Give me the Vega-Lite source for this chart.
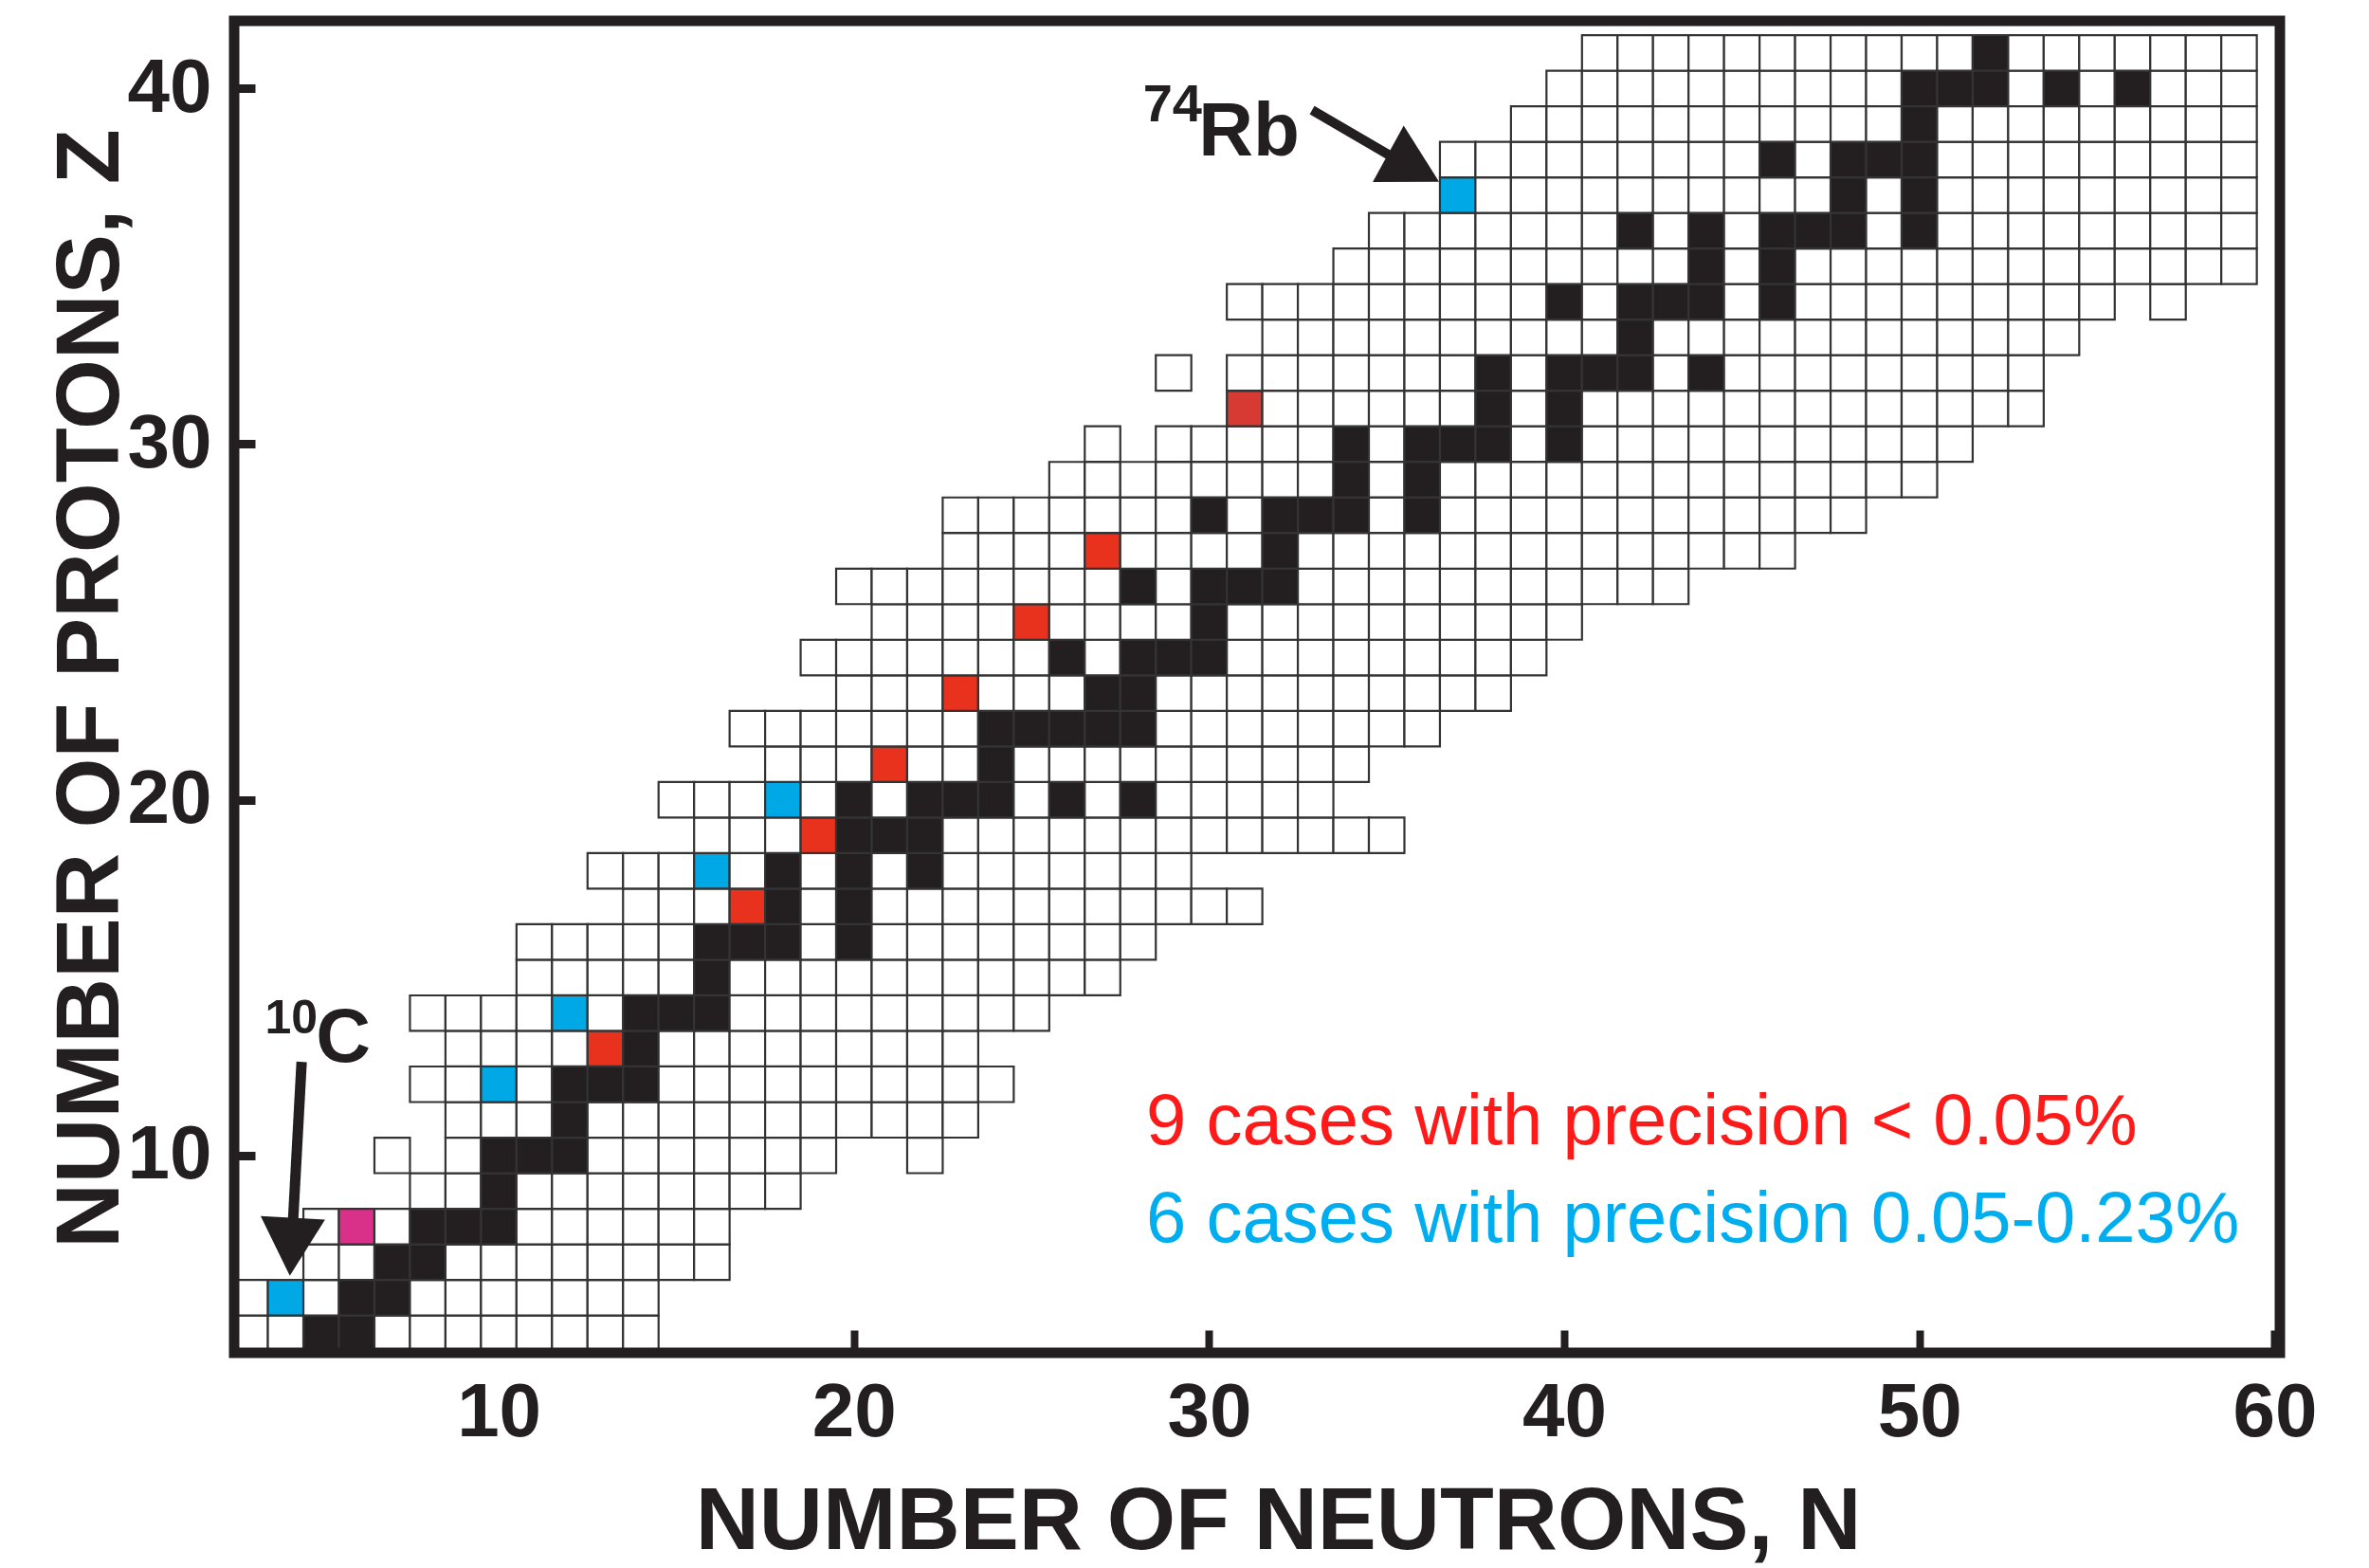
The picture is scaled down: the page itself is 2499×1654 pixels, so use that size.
{
"$schema":"https://vega.github.io/schema/vega-lite/v6.json",
"width":2158,"height":1405,
"autosize":{"type":"none"},
"padding":{"left":247,"top":22,"right":94,"bottom":227},
"background":"white",
"config":{"view":{"stroke":null},"font":"Liberation Sans"},
"datasets":{"cells":[
{"Z":5,"N":3,"k":"o"},{"Z":5,"N":4,"k":"o"},{"Z":5,"N":5,"k":"s"},{"Z":5,"N":6,"k":"s"},{"Z":5,"N":7,"k":"o"},{"Z":5,"N":8,"k":"o"},{"Z":5,"N":9,"k":"o"},{"Z":5,"N":10,"k":"o"},{"Z":5,"N":11,"k":"o"},{"Z":5,"N":12,"k":"o"},{"Z":5,"N":13,"k":"o"},{"Z":5,"N":14,"k":"o"},
{"Z":6,"N":3,"k":"o"},{"Z":6,"N":4,"k":"b"},{"Z":6,"N":5,"k":"o"},{"Z":6,"N":6,"k":"s"},{"Z":6,"N":7,"k":"s"},{"Z":6,"N":8,"k":"o"},{"Z":6,"N":9,"k":"o"},{"Z":6,"N":10,"k":"o"},{"Z":6,"N":11,"k":"o"},{"Z":6,"N":12,"k":"o"},{"Z":6,"N":13,"k":"o"},{"Z":6,"N":14,"k":"o"},
{"Z":7,"N":5,"k":"o"},{"Z":7,"N":6,"k":"o"},{"Z":7,"N":7,"k":"s"},{"Z":7,"N":8,"k":"s"},{"Z":7,"N":9,"k":"o"},{"Z":7,"N":10,"k":"o"},{"Z":7,"N":11,"k":"o"},{"Z":7,"N":12,"k":"o"},{"Z":7,"N":13,"k":"o"},{"Z":7,"N":14,"k":"o"},{"Z":7,"N":15,"k":"o"},{"Z":7,"N":16,"k":"o"},
{"Z":8,"N":5,"k":"o"},{"Z":8,"N":6,"k":"m"},{"Z":8,"N":7,"k":"o"},{"Z":8,"N":8,"k":"s"},{"Z":8,"N":9,"k":"s"},{"Z":8,"N":10,"k":"s"},{"Z":8,"N":11,"k":"o"},{"Z":8,"N":12,"k":"o"},{"Z":8,"N":13,"k":"o"},{"Z":8,"N":14,"k":"o"},{"Z":8,"N":15,"k":"o"},{"Z":8,"N":16,"k":"o"},
{"Z":9,"N":8,"k":"o"},{"Z":9,"N":9,"k":"o"},{"Z":9,"N":10,"k":"s"},{"Z":9,"N":11,"k":"o"},{"Z":9,"N":12,"k":"o"},{"Z":9,"N":13,"k":"o"},{"Z":9,"N":14,"k":"o"},{"Z":9,"N":15,"k":"o"},{"Z":9,"N":16,"k":"o"},{"Z":9,"N":17,"k":"o"},{"Z":9,"N":18,"k":"o"},
{"Z":10,"N":7,"k":"o"},{"Z":10,"N":9,"k":"o"},{"Z":10,"N":10,"k":"s"},{"Z":10,"N":11,"k":"s"},{"Z":10,"N":12,"k":"s"},{"Z":10,"N":13,"k":"o"},{"Z":10,"N":14,"k":"o"},{"Z":10,"N":15,"k":"o"},{"Z":10,"N":16,"k":"o"},{"Z":10,"N":17,"k":"o"},{"Z":10,"N":18,"k":"o"},{"Z":10,"N":19,"k":"o"},{"Z":10,"N":22,"k":"o"},
{"Z":11,"N":9,"k":"o"},{"Z":11,"N":10,"k":"o"},{"Z":11,"N":11,"k":"o"},{"Z":11,"N":12,"k":"s"},{"Z":11,"N":13,"k":"o"},{"Z":11,"N":14,"k":"o"},{"Z":11,"N":15,"k":"o"},{"Z":11,"N":16,"k":"o"},{"Z":11,"N":17,"k":"o"},{"Z":11,"N":18,"k":"o"},{"Z":11,"N":19,"k":"o"},{"Z":11,"N":20,"k":"o"},{"Z":11,"N":21,"k":"o"},{"Z":11,"N":22,"k":"o"},{"Z":11,"N":23,"k":"o"},
{"Z":12,"N":8,"k":"o"},{"Z":12,"N":9,"k":"o"},{"Z":12,"N":10,"k":"b"},{"Z":12,"N":11,"k":"o"},{"Z":12,"N":12,"k":"s"},{"Z":12,"N":13,"k":"s"},{"Z":12,"N":14,"k":"s"},{"Z":12,"N":15,"k":"o"},{"Z":12,"N":16,"k":"o"},{"Z":12,"N":17,"k":"o"},{"Z":12,"N":18,"k":"o"},{"Z":12,"N":19,"k":"o"},{"Z":12,"N":20,"k":"o"},{"Z":12,"N":21,"k":"o"},{"Z":12,"N":22,"k":"o"},{"Z":12,"N":23,"k":"o"},{"Z":12,"N":24,"k":"o"},
{"Z":13,"N":9,"k":"o"},{"Z":13,"N":10,"k":"o"},{"Z":13,"N":11,"k":"o"},{"Z":13,"N":12,"k":"o"},{"Z":13,"N":13,"k":"r"},{"Z":13,"N":14,"k":"s"},{"Z":13,"N":15,"k":"o"},{"Z":13,"N":16,"k":"o"},{"Z":13,"N":17,"k":"o"},{"Z":13,"N":18,"k":"o"},{"Z":13,"N":19,"k":"o"},{"Z":13,"N":20,"k":"o"},{"Z":13,"N":21,"k":"o"},{"Z":13,"N":22,"k":"o"},{"Z":13,"N":23,"k":"o"},
{"Z":14,"N":8,"k":"o"},{"Z":14,"N":9,"k":"o"},{"Z":14,"N":10,"k":"o"},{"Z":14,"N":11,"k":"o"},{"Z":14,"N":12,"k":"b"},{"Z":14,"N":13,"k":"o"},{"Z":14,"N":14,"k":"s"},{"Z":14,"N":15,"k":"s"},{"Z":14,"N":16,"k":"s"},{"Z":14,"N":17,"k":"o"},{"Z":14,"N":18,"k":"o"},{"Z":14,"N":19,"k":"o"},{"Z":14,"N":20,"k":"o"},{"Z":14,"N":21,"k":"o"},{"Z":14,"N":22,"k":"o"},{"Z":14,"N":23,"k":"o"},{"Z":14,"N":24,"k":"o"},{"Z":14,"N":25,"k":"o"},
{"Z":15,"N":11,"k":"o"},{"Z":15,"N":12,"k":"o"},{"Z":15,"N":13,"k":"o"},{"Z":15,"N":14,"k":"o"},{"Z":15,"N":15,"k":"o"},{"Z":15,"N":16,"k":"s"},{"Z":15,"N":17,"k":"o"},{"Z":15,"N":18,"k":"o"},{"Z":15,"N":19,"k":"o"},{"Z":15,"N":20,"k":"o"},{"Z":15,"N":21,"k":"o"},{"Z":15,"N":22,"k":"o"},{"Z":15,"N":23,"k":"o"},{"Z":15,"N":24,"k":"o"},{"Z":15,"N":25,"k":"o"},{"Z":15,"N":26,"k":"o"},{"Z":15,"N":27,"k":"o"},
{"Z":16,"N":11,"k":"o"},{"Z":16,"N":12,"k":"o"},{"Z":16,"N":13,"k":"o"},{"Z":16,"N":14,"k":"o"},{"Z":16,"N":15,"k":"o"},{"Z":16,"N":16,"k":"s"},{"Z":16,"N":17,"k":"s"},{"Z":16,"N":18,"k":"s"},{"Z":16,"N":19,"k":"o"},{"Z":16,"N":20,"k":"s"},{"Z":16,"N":21,"k":"o"},{"Z":16,"N":22,"k":"o"},{"Z":16,"N":23,"k":"o"},{"Z":16,"N":24,"k":"o"},{"Z":16,"N":25,"k":"o"},{"Z":16,"N":26,"k":"o"},{"Z":16,"N":27,"k":"o"},{"Z":16,"N":28,"k":"o"},
{"Z":17,"N":14,"k":"o"},{"Z":17,"N":15,"k":"o"},{"Z":17,"N":16,"k":"o"},{"Z":17,"N":17,"k":"r"},{"Z":17,"N":18,"k":"s"},{"Z":17,"N":19,"k":"o"},{"Z":17,"N":20,"k":"s"},{"Z":17,"N":21,"k":"o"},{"Z":17,"N":22,"k":"o"},{"Z":17,"N":23,"k":"o"},{"Z":17,"N":24,"k":"o"},{"Z":17,"N":25,"k":"o"},{"Z":17,"N":26,"k":"o"},{"Z":17,"N":27,"k":"o"},{"Z":17,"N":28,"k":"o"},{"Z":17,"N":29,"k":"o"},{"Z":17,"N":30,"k":"o"},{"Z":17,"N":31,"k":"o"},
{"Z":18,"N":13,"k":"o"},{"Z":18,"N":14,"k":"o"},{"Z":18,"N":15,"k":"o"},{"Z":18,"N":16,"k":"b"},{"Z":18,"N":17,"k":"o"},{"Z":18,"N":18,"k":"s"},{"Z":18,"N":19,"k":"o"},{"Z":18,"N":20,"k":"s"},{"Z":18,"N":21,"k":"o"},{"Z":18,"N":22,"k":"s"},{"Z":18,"N":23,"k":"o"},{"Z":18,"N":24,"k":"o"},{"Z":18,"N":25,"k":"o"},{"Z":18,"N":26,"k":"o"},{"Z":18,"N":27,"k":"o"},{"Z":18,"N":28,"k":"o"},{"Z":18,"N":29,"k":"o"},
{"Z":19,"N":16,"k":"o"},{"Z":19,"N":17,"k":"o"},{"Z":19,"N":18,"k":"o"},{"Z":19,"N":19,"k":"r"},{"Z":19,"N":20,"k":"s"},{"Z":19,"N":21,"k":"s"},{"Z":19,"N":22,"k":"s"},{"Z":19,"N":23,"k":"o"},{"Z":19,"N":24,"k":"o"},{"Z":19,"N":25,"k":"o"},{"Z":19,"N":26,"k":"o"},{"Z":19,"N":27,"k":"o"},{"Z":19,"N":28,"k":"o"},{"Z":19,"N":29,"k":"o"},{"Z":19,"N":30,"k":"o"},{"Z":19,"N":31,"k":"o"},{"Z":19,"N":32,"k":"o"},{"Z":19,"N":33,"k":"o"},{"Z":19,"N":34,"k":"o"},{"Z":19,"N":35,"k":"o"},
{"Z":20,"N":15,"k":"o"},{"Z":20,"N":16,"k":"o"},{"Z":20,"N":17,"k":"o"},{"Z":20,"N":18,"k":"b"},{"Z":20,"N":19,"k":"o"},{"Z":20,"N":20,"k":"s"},{"Z":20,"N":21,"k":"o"},{"Z":20,"N":22,"k":"s"},{"Z":20,"N":23,"k":"s"},{"Z":20,"N":24,"k":"s"},{"Z":20,"N":25,"k":"o"},{"Z":20,"N":26,"k":"s"},{"Z":20,"N":27,"k":"o"},{"Z":20,"N":28,"k":"s"},{"Z":20,"N":29,"k":"o"},{"Z":20,"N":30,"k":"o"},{"Z":20,"N":31,"k":"o"},{"Z":20,"N":32,"k":"o"},{"Z":20,"N":33,"k":"o"},
{"Z":21,"N":18,"k":"o"},{"Z":21,"N":19,"k":"o"},{"Z":21,"N":20,"k":"o"},{"Z":21,"N":21,"k":"r"},{"Z":21,"N":22,"k":"o"},{"Z":21,"N":23,"k":"o"},{"Z":21,"N":24,"k":"s"},{"Z":21,"N":25,"k":"o"},{"Z":21,"N":26,"k":"o"},{"Z":21,"N":27,"k":"o"},{"Z":21,"N":28,"k":"o"},{"Z":21,"N":29,"k":"o"},{"Z":21,"N":30,"k":"o"},{"Z":21,"N":31,"k":"o"},{"Z":21,"N":32,"k":"o"},{"Z":21,"N":33,"k":"o"},{"Z":21,"N":34,"k":"o"},
{"Z":22,"N":17,"k":"o"},{"Z":22,"N":18,"k":"o"},{"Z":22,"N":19,"k":"o"},{"Z":22,"N":20,"k":"o"},{"Z":22,"N":21,"k":"o"},{"Z":22,"N":22,"k":"o"},{"Z":22,"N":23,"k":"o"},{"Z":22,"N":24,"k":"s"},{"Z":22,"N":25,"k":"s"},{"Z":22,"N":26,"k":"s"},{"Z":22,"N":27,"k":"s"},{"Z":22,"N":28,"k":"s"},{"Z":22,"N":29,"k":"o"},{"Z":22,"N":30,"k":"o"},{"Z":22,"N":31,"k":"o"},{"Z":22,"N":32,"k":"o"},{"Z":22,"N":33,"k":"o"},{"Z":22,"N":34,"k":"o"},{"Z":22,"N":35,"k":"o"},{"Z":22,"N":36,"k":"o"},
{"Z":23,"N":20,"k":"o"},{"Z":23,"N":21,"k":"o"},{"Z":23,"N":22,"k":"o"},{"Z":23,"N":23,"k":"r"},{"Z":23,"N":24,"k":"o"},{"Z":23,"N":25,"k":"o"},{"Z":23,"N":26,"k":"o"},{"Z":23,"N":27,"k":"s"},{"Z":23,"N":28,"k":"s"},{"Z":23,"N":29,"k":"o"},{"Z":23,"N":30,"k":"o"},{"Z":23,"N":31,"k":"o"},{"Z":23,"N":32,"k":"o"},{"Z":23,"N":33,"k":"o"},{"Z":23,"N":34,"k":"o"},{"Z":23,"N":35,"k":"o"},{"Z":23,"N":36,"k":"o"},{"Z":23,"N":37,"k":"o"},{"Z":23,"N":38,"k":"o"},
{"Z":24,"N":19,"k":"o"},{"Z":24,"N":20,"k":"o"},{"Z":24,"N":21,"k":"o"},{"Z":24,"N":22,"k":"o"},{"Z":24,"N":23,"k":"o"},{"Z":24,"N":24,"k":"o"},{"Z":24,"N":25,"k":"o"},{"Z":24,"N":26,"k":"s"},{"Z":24,"N":27,"k":"o"},{"Z":24,"N":28,"k":"s"},{"Z":24,"N":29,"k":"s"},{"Z":24,"N":30,"k":"s"},{"Z":24,"N":31,"k":"o"},{"Z":24,"N":32,"k":"o"},{"Z":24,"N":33,"k":"o"},{"Z":24,"N":34,"k":"o"},{"Z":24,"N":35,"k":"o"},{"Z":24,"N":36,"k":"o"},{"Z":24,"N":37,"k":"o"},{"Z":24,"N":38,"k":"o"},{"Z":24,"N":39,"k":"o"},
{"Z":25,"N":21,"k":"o"},{"Z":25,"N":22,"k":"o"},{"Z":25,"N":23,"k":"o"},{"Z":25,"N":24,"k":"o"},{"Z":25,"N":25,"k":"r"},{"Z":25,"N":26,"k":"o"},{"Z":25,"N":27,"k":"o"},{"Z":25,"N":28,"k":"o"},{"Z":25,"N":29,"k":"o"},{"Z":25,"N":30,"k":"s"},{"Z":25,"N":31,"k":"o"},{"Z":25,"N":32,"k":"o"},{"Z":25,"N":33,"k":"o"},{"Z":25,"N":34,"k":"o"},{"Z":25,"N":35,"k":"o"},{"Z":25,"N":36,"k":"o"},{"Z":25,"N":37,"k":"o"},{"Z":25,"N":38,"k":"o"},{"Z":25,"N":39,"k":"o"},{"Z":25,"N":40,"k":"o"},
{"Z":26,"N":20,"k":"o"},{"Z":26,"N":21,"k":"o"},{"Z":26,"N":22,"k":"o"},{"Z":26,"N":23,"k":"o"},{"Z":26,"N":24,"k":"o"},{"Z":26,"N":25,"k":"o"},{"Z":26,"N":26,"k":"o"},{"Z":26,"N":27,"k":"o"},{"Z":26,"N":28,"k":"s"},{"Z":26,"N":29,"k":"o"},{"Z":26,"N":30,"k":"s"},{"Z":26,"N":31,"k":"s"},{"Z":26,"N":32,"k":"s"},{"Z":26,"N":33,"k":"o"},{"Z":26,"N":34,"k":"o"},{"Z":26,"N":35,"k":"o"},{"Z":26,"N":36,"k":"o"},{"Z":26,"N":37,"k":"o"},{"Z":26,"N":38,"k":"o"},{"Z":26,"N":39,"k":"o"},{"Z":26,"N":40,"k":"o"},{"Z":26,"N":41,"k":"o"},{"Z":26,"N":42,"k":"o"},{"Z":26,"N":43,"k":"o"},
{"Z":27,"N":23,"k":"o"},{"Z":27,"N":24,"k":"o"},{"Z":27,"N":25,"k":"o"},{"Z":27,"N":26,"k":"o"},{"Z":27,"N":27,"k":"r"},{"Z":27,"N":28,"k":"o"},{"Z":27,"N":29,"k":"o"},{"Z":27,"N":30,"k":"o"},{"Z":27,"N":31,"k":"o"},{"Z":27,"N":32,"k":"s"},{"Z":27,"N":33,"k":"o"},{"Z":27,"N":34,"k":"o"},{"Z":27,"N":35,"k":"o"},{"Z":27,"N":36,"k":"o"},{"Z":27,"N":37,"k":"o"},{"Z":27,"N":38,"k":"o"},{"Z":27,"N":39,"k":"o"},{"Z":27,"N":40,"k":"o"},{"Z":27,"N":41,"k":"o"},{"Z":27,"N":42,"k":"o"},{"Z":27,"N":43,"k":"o"},{"Z":27,"N":44,"k":"o"},{"Z":27,"N":45,"k":"o"},{"Z":27,"N":46,"k":"o"},
{"Z":28,"N":23,"k":"o"},{"Z":28,"N":24,"k":"o"},{"Z":28,"N":25,"k":"o"},{"Z":28,"N":26,"k":"o"},{"Z":28,"N":27,"k":"o"},{"Z":28,"N":28,"k":"o"},{"Z":28,"N":29,"k":"o"},{"Z":28,"N":30,"k":"s"},{"Z":28,"N":31,"k":"o"},{"Z":28,"N":32,"k":"s"},{"Z":28,"N":33,"k":"s"},{"Z":28,"N":34,"k":"s"},{"Z":28,"N":35,"k":"o"},{"Z":28,"N":36,"k":"s"},{"Z":28,"N":37,"k":"o"},{"Z":28,"N":38,"k":"o"},{"Z":28,"N":39,"k":"o"},{"Z":28,"N":40,"k":"o"},{"Z":28,"N":41,"k":"o"},{"Z":28,"N":42,"k":"o"},{"Z":28,"N":43,"k":"o"},{"Z":28,"N":44,"k":"o"},{"Z":28,"N":45,"k":"o"},{"Z":28,"N":46,"k":"o"},{"Z":28,"N":47,"k":"o"},{"Z":28,"N":48,"k":"o"},
{"Z":29,"N":26,"k":"o"},{"Z":29,"N":27,"k":"o"},{"Z":29,"N":28,"k":"o"},{"Z":29,"N":29,"k":"o"},{"Z":29,"N":30,"k":"o"},{"Z":29,"N":31,"k":"o"},{"Z":29,"N":32,"k":"o"},{"Z":29,"N":33,"k":"o"},{"Z":29,"N":34,"k":"s"},{"Z":29,"N":35,"k":"o"},{"Z":29,"N":36,"k":"s"},{"Z":29,"N":37,"k":"o"},{"Z":29,"N":38,"k":"o"},{"Z":29,"N":39,"k":"o"},{"Z":29,"N":40,"k":"o"},{"Z":29,"N":41,"k":"o"},{"Z":29,"N":42,"k":"o"},{"Z":29,"N":43,"k":"o"},{"Z":29,"N":44,"k":"o"},{"Z":29,"N":45,"k":"o"},{"Z":29,"N":46,"k":"o"},{"Z":29,"N":47,"k":"o"},{"Z":29,"N":48,"k":"o"},{"Z":29,"N":49,"k":"o"},{"Z":29,"N":50,"k":"o"},
{"Z":30,"N":27,"k":"o"},{"Z":30,"N":29,"k":"o"},{"Z":30,"N":30,"k":"o"},{"Z":30,"N":31,"k":"o"},{"Z":30,"N":32,"k":"o"},{"Z":30,"N":33,"k":"o"},{"Z":30,"N":34,"k":"s"},{"Z":30,"N":35,"k":"o"},{"Z":30,"N":36,"k":"s"},{"Z":30,"N":37,"k":"s"},{"Z":30,"N":38,"k":"s"},{"Z":30,"N":39,"k":"o"},{"Z":30,"N":40,"k":"s"},{"Z":30,"N":41,"k":"o"},{"Z":30,"N":42,"k":"o"},{"Z":30,"N":43,"k":"o"},{"Z":30,"N":44,"k":"o"},{"Z":30,"N":45,"k":"o"},{"Z":30,"N":46,"k":"o"},{"Z":30,"N":47,"k":"o"},{"Z":30,"N":48,"k":"o"},{"Z":30,"N":49,"k":"o"},{"Z":30,"N":50,"k":"o"},{"Z":30,"N":51,"k":"o"},
{"Z":31,"N":31,"k":"g"},{"Z":31,"N":32,"k":"o"},{"Z":31,"N":33,"k":"o"},{"Z":31,"N":34,"k":"o"},{"Z":31,"N":35,"k":"o"},{"Z":31,"N":36,"k":"o"},{"Z":31,"N":37,"k":"o"},{"Z":31,"N":38,"k":"s"},{"Z":31,"N":39,"k":"o"},{"Z":31,"N":40,"k":"s"},{"Z":31,"N":41,"k":"o"},{"Z":31,"N":42,"k":"o"},{"Z":31,"N":43,"k":"o"},{"Z":31,"N":44,"k":"o"},{"Z":31,"N":45,"k":"o"},{"Z":31,"N":46,"k":"o"},{"Z":31,"N":47,"k":"o"},{"Z":31,"N":48,"k":"o"},{"Z":31,"N":49,"k":"o"},{"Z":31,"N":50,"k":"o"},{"Z":31,"N":51,"k":"o"},{"Z":31,"N":52,"k":"o"},{"Z":31,"N":53,"k":"o"},
{"Z":32,"N":29,"k":"o"},{"Z":32,"N":31,"k":"o"},{"Z":32,"N":32,"k":"o"},{"Z":32,"N":33,"k":"o"},{"Z":32,"N":34,"k":"o"},{"Z":32,"N":35,"k":"o"},{"Z":32,"N":36,"k":"o"},{"Z":32,"N":37,"k":"o"},{"Z":32,"N":38,"k":"s"},{"Z":32,"N":39,"k":"o"},{"Z":32,"N":40,"k":"s"},{"Z":32,"N":41,"k":"s"},{"Z":32,"N":42,"k":"s"},{"Z":32,"N":43,"k":"o"},{"Z":32,"N":44,"k":"s"},{"Z":32,"N":45,"k":"o"},{"Z":32,"N":46,"k":"o"},{"Z":32,"N":47,"k":"o"},{"Z":32,"N":48,"k":"o"},{"Z":32,"N":49,"k":"o"},{"Z":32,"N":50,"k":"o"},{"Z":32,"N":51,"k":"o"},{"Z":32,"N":52,"k":"o"},{"Z":32,"N":53,"k":"o"},
{"Z":33,"N":32,"k":"o"},{"Z":33,"N":33,"k":"o"},{"Z":33,"N":34,"k":"o"},{"Z":33,"N":35,"k":"o"},{"Z":33,"N":36,"k":"o"},{"Z":33,"N":37,"k":"o"},{"Z":33,"N":38,"k":"o"},{"Z":33,"N":39,"k":"o"},{"Z":33,"N":40,"k":"o"},{"Z":33,"N":41,"k":"o"},{"Z":33,"N":42,"k":"s"},{"Z":33,"N":43,"k":"o"},{"Z":33,"N":44,"k":"o"},{"Z":33,"N":45,"k":"o"},{"Z":33,"N":46,"k":"o"},{"Z":33,"N":47,"k":"o"},{"Z":33,"N":48,"k":"o"},{"Z":33,"N":49,"k":"o"},{"Z":33,"N":50,"k":"o"},{"Z":33,"N":51,"k":"o"},{"Z":33,"N":52,"k":"o"},{"Z":33,"N":53,"k":"o"},{"Z":33,"N":54,"k":"o"},
{"Z":34,"N":31,"k":"o"},{"Z":34,"N":32,"k":"o"},{"Z":34,"N":33,"k":"o"},{"Z":34,"N":34,"k":"o"},{"Z":34,"N":35,"k":"o"},{"Z":34,"N":36,"k":"o"},{"Z":34,"N":37,"k":"o"},{"Z":34,"N":38,"k":"o"},{"Z":34,"N":39,"k":"o"},{"Z":34,"N":40,"k":"s"},{"Z":34,"N":41,"k":"o"},{"Z":34,"N":42,"k":"s"},{"Z":34,"N":43,"k":"s"},{"Z":34,"N":44,"k":"s"},{"Z":34,"N":45,"k":"o"},{"Z":34,"N":46,"k":"s"},{"Z":34,"N":47,"k":"o"},{"Z":34,"N":48,"k":"o"},{"Z":34,"N":49,"k":"o"},{"Z":34,"N":50,"k":"o"},{"Z":34,"N":51,"k":"o"},{"Z":34,"N":52,"k":"o"},{"Z":34,"N":53,"k":"o"},{"Z":34,"N":54,"k":"o"},{"Z":34,"N":55,"k":"o"},{"Z":34,"N":57,"k":"o"},
{"Z":35,"N":34,"k":"o"},{"Z":35,"N":35,"k":"o"},{"Z":35,"N":36,"k":"o"},{"Z":35,"N":37,"k":"o"},{"Z":35,"N":38,"k":"o"},{"Z":35,"N":39,"k":"o"},{"Z":35,"N":40,"k":"o"},{"Z":35,"N":41,"k":"o"},{"Z":35,"N":42,"k":"o"},{"Z":35,"N":43,"k":"o"},{"Z":35,"N":44,"k":"s"},{"Z":35,"N":45,"k":"o"},{"Z":35,"N":46,"k":"s"},{"Z":35,"N":47,"k":"o"},{"Z":35,"N":48,"k":"o"},{"Z":35,"N":49,"k":"o"},{"Z":35,"N":50,"k":"o"},{"Z":35,"N":51,"k":"o"},{"Z":35,"N":52,"k":"o"},{"Z":35,"N":53,"k":"o"},{"Z":35,"N":54,"k":"o"},{"Z":35,"N":55,"k":"o"},{"Z":35,"N":56,"k":"o"},{"Z":35,"N":57,"k":"o"},{"Z":35,"N":58,"k":"o"},{"Z":35,"N":59,"k":"o"},
{"Z":36,"N":35,"k":"o"},{"Z":36,"N":36,"k":"o"},{"Z":36,"N":37,"k":"o"},{"Z":36,"N":38,"k":"o"},{"Z":36,"N":39,"k":"o"},{"Z":36,"N":40,"k":"o"},{"Z":36,"N":41,"k":"o"},{"Z":36,"N":42,"k":"s"},{"Z":36,"N":43,"k":"o"},{"Z":36,"N":44,"k":"s"},{"Z":36,"N":45,"k":"o"},{"Z":36,"N":46,"k":"s"},{"Z":36,"N":47,"k":"s"},{"Z":36,"N":48,"k":"s"},{"Z":36,"N":49,"k":"o"},{"Z":36,"N":50,"k":"s"},{"Z":36,"N":51,"k":"o"},{"Z":36,"N":52,"k":"o"},{"Z":36,"N":53,"k":"o"},{"Z":36,"N":54,"k":"o"},{"Z":36,"N":55,"k":"o"},{"Z":36,"N":56,"k":"o"},{"Z":36,"N":57,"k":"o"},{"Z":36,"N":58,"k":"o"},{"Z":36,"N":59,"k":"o"},
{"Z":37,"N":37,"k":"b"},{"Z":37,"N":38,"k":"o"},{"Z":37,"N":39,"k":"o"},{"Z":37,"N":40,"k":"o"},{"Z":37,"N":41,"k":"o"},{"Z":37,"N":42,"k":"o"},{"Z":37,"N":43,"k":"o"},{"Z":37,"N":44,"k":"o"},{"Z":37,"N":45,"k":"o"},{"Z":37,"N":46,"k":"o"},{"Z":37,"N":47,"k":"o"},{"Z":37,"N":48,"k":"s"},{"Z":37,"N":49,"k":"o"},{"Z":37,"N":50,"k":"s"},{"Z":37,"N":51,"k":"o"},{"Z":37,"N":52,"k":"o"},{"Z":37,"N":53,"k":"o"},{"Z":37,"N":54,"k":"o"},{"Z":37,"N":55,"k":"o"},{"Z":37,"N":56,"k":"o"},{"Z":37,"N":57,"k":"o"},{"Z":37,"N":58,"k":"o"},{"Z":37,"N":59,"k":"o"},
{"Z":38,"N":37,"k":"o"},{"Z":38,"N":38,"k":"o"},{"Z":38,"N":39,"k":"o"},{"Z":38,"N":40,"k":"o"},{"Z":38,"N":41,"k":"o"},{"Z":38,"N":42,"k":"o"},{"Z":38,"N":43,"k":"o"},{"Z":38,"N":44,"k":"o"},{"Z":38,"N":45,"k":"o"},{"Z":38,"N":46,"k":"s"},{"Z":38,"N":47,"k":"o"},{"Z":38,"N":48,"k":"s"},{"Z":38,"N":49,"k":"s"},{"Z":38,"N":50,"k":"s"},{"Z":38,"N":51,"k":"o"},{"Z":38,"N":52,"k":"o"},{"Z":38,"N":53,"k":"o"},{"Z":38,"N":54,"k":"o"},{"Z":38,"N":55,"k":"o"},{"Z":38,"N":56,"k":"o"},{"Z":38,"N":57,"k":"o"},{"Z":38,"N":58,"k":"o"},{"Z":38,"N":59,"k":"o"},
{"Z":39,"N":39,"k":"o"},{"Z":39,"N":40,"k":"o"},{"Z":39,"N":41,"k":"o"},{"Z":39,"N":42,"k":"o"},{"Z":39,"N":43,"k":"o"},{"Z":39,"N":44,"k":"o"},{"Z":39,"N":45,"k":"o"},{"Z":39,"N":46,"k":"o"},{"Z":39,"N":47,"k":"o"},{"Z":39,"N":48,"k":"o"},{"Z":39,"N":49,"k":"o"},{"Z":39,"N":50,"k":"s"},{"Z":39,"N":51,"k":"o"},{"Z":39,"N":52,"k":"o"},{"Z":39,"N":53,"k":"o"},{"Z":39,"N":54,"k":"o"},{"Z":39,"N":55,"k":"o"},{"Z":39,"N":56,"k":"o"},{"Z":39,"N":57,"k":"o"},{"Z":39,"N":58,"k":"o"},{"Z":39,"N":59,"k":"o"},
{"Z":40,"N":40,"k":"o"},{"Z":40,"N":41,"k":"o"},{"Z":40,"N":42,"k":"o"},{"Z":40,"N":43,"k":"o"},{"Z":40,"N":44,"k":"o"},{"Z":40,"N":45,"k":"o"},{"Z":40,"N":46,"k":"o"},{"Z":40,"N":47,"k":"o"},{"Z":40,"N":48,"k":"o"},{"Z":40,"N":49,"k":"o"},{"Z":40,"N":50,"k":"s"},{"Z":40,"N":51,"k":"s"},{"Z":40,"N":52,"k":"s"},{"Z":40,"N":53,"k":"o"},{"Z":40,"N":54,"k":"s"},{"Z":40,"N":55,"k":"o"},{"Z":40,"N":56,"k":"s"},{"Z":40,"N":57,"k":"o"},{"Z":40,"N":58,"k":"o"},{"Z":40,"N":59,"k":"o"},
{"Z":41,"N":41,"k":"o"},{"Z":41,"N":42,"k":"o"},{"Z":41,"N":43,"k":"o"},{"Z":41,"N":44,"k":"o"},{"Z":41,"N":45,"k":"o"},{"Z":41,"N":46,"k":"o"},{"Z":41,"N":47,"k":"o"},{"Z":41,"N":48,"k":"o"},{"Z":41,"N":49,"k":"o"},{"Z":41,"N":50,"k":"o"},{"Z":41,"N":51,"k":"o"},{"Z":41,"N":52,"k":"s"},{"Z":41,"N":53,"k":"o"},{"Z":41,"N":54,"k":"o"},{"Z":41,"N":55,"k":"o"},{"Z":41,"N":56,"k":"o"},{"Z":41,"N":57,"k":"o"},{"Z":41,"N":58,"k":"o"},{"Z":41,"N":59,"k":"o"}
]},
"layer":[
{"data":{"name":"cells"},
 "mark":{"type":"square","size":1404,"filled":true,"opacity":1,"stroke":"#333333","strokeWidth":2.2,"clip":true},
 "encoding":{
  "x":{"field":"N","type":"quantitative","scale":{"domain":[2.55,60.15],"nice":false,"zero":false},
   "axis":{"values":[10,20,30,40,50,60],"format":"d","title":"NUMBER OF NEUTRONS, N","grid":false,"domain":false,"ticks":true,"tickSize":-24,"tickWidth":8,"tickColor":"#231f20","labelFont":"Liberation Sans","labelFontWeight":"bold","labelFontSize":80,"labelColor":"#231f20","labelPadding":48,"labelFlush":false,"labelOverlap":false,"titleFont":"Liberation Sans","titleFontWeight":"bold","titleFontSize":93,"titleColor":"#231f20","titleX":1101,"titleY":206,"titleBaseline":"alphabetic","titleAlign":"center"}},
  "y":{"field":"Z","type":"quantitative","scale":{"domain":[4.45,41.9],"nice":false,"zero":false},
   "axis":{"values":[10,20,30,40],"format":"d","title":"NUMBER OF PROTONS, Z","grid":false,"domain":false,"ticks":true,"tickSize":-22,"tickWidth":9,"tickColor":"#231f20","labelFont":"Liberation Sans","labelFontWeight":"bold","labelFontSize":80,"labelColor":"#231f20","labelPadding":46,"labelFlush":false,"labelOverlap":false,"titleFont":"Liberation Sans","titleFontWeight":"bold","titleFontSize":95,"titleColor":"#231f20","titleX":-123,"titleY":704,"titleAngle":-90,"titleBaseline":"alphabetic","titleAlign":"center"}},
  "fill":{"field":"k","type":"nominal","scale":{"domain":["o","s","r","g","b","m"],"range":["#ffffff","#231f20","#e8321e","#d63a32","#00a9e6","#d9308a"]},"legend":null}
 }},
{"data":{"values":[{}]},"mark":{"type":"rect","filled":false,"stroke":"#231f20","strokeWidth":11,"clip":false},
 "encoding":{"x":{"datum":2.55,"type":"quantitative"},"x2":{"datum":60.15},"y":{"datum":4.45,"type":"quantitative"},"y2":{"datum":41.9}}},
{"data":{"values":[{}]},"mark":{"type":"rule","stroke":"#231f20","strokeWidth":11},
 "encoding":{"x":{"datum":4.45,"type":"quantitative"},"y":{"datum":12.63,"type":"quantitative"},"x2":{"datum":4.2},"y2":{"datum":8.0}}},
{"data":{"values":[{}]},"mark":{"type":"point","shape":"M-1,-0.9L1,-0.9L0,0.9Z","size":4624,"filled":true,"opacity":1,"fill":"#231f20","strokeWidth":0,"angle":3},
 "encoding":{"x":{"datum":4.16,"type":"quantitative"},"y":{"datum":7.43,"type":"quantitative"}}},
{"data":{"values":[{}]},"mark":{"type":"rule","stroke":"#231f20","strokeWidth":10},
 "encoding":{"x":{"datum":32.9,"type":"quantitative"},"y":{"datum":39.39,"type":"quantitative"},"x2":{"datum":35.2},"y2":{"datum":38.05}}},
{"data":{"values":[{}]},"mark":{"type":"point","shape":"M-1,-0.9L1,-0.9L0,0.9Z","size":4624,"filled":true,"opacity":1,"fill":"#231f20","strokeWidth":0,"angle":298.7},
 "encoding":{"x":{"datum":35.76,"type":"quantitative"},"y":{"datum":37.77,"type":"quantitative"}}},
{"data":{"values":[{}]},"mark":{"type":"text","text":"C","font":"Liberation Sans","fontWeight":"bold","fontSize":80,"align":"left","baseline":"alphabetic","fill":"#231f20"},
 "encoding":{"x":{"datum":4.85,"type":"quantitative"},"y":{"datum":12.63,"type":"quantitative"}}},
{"data":{"values":[{}]},"mark":{"type":"text","text":"10","font":"Liberation Sans","fontWeight":"bold","fontSize":50,"align":"right","baseline":"alphabetic","fill":"#231f20"},
 "encoding":{"x":{"datum":4.9,"type":"quantitative"},"y":{"datum":13.43,"type":"quantitative"}}},
{"data":{"values":[{}]},"mark":{"type":"text","text":"Rb","font":"Liberation Sans","fontWeight":"bold","fontSize":80,"align":"left","baseline":"alphabetic","fill":"#231f20"},
 "encoding":{"x":{"datum":29.7,"type":"quantitative"},"y":{"datum":38.11,"type":"quantitative"}}},
{"data":{"values":[{}]},"mark":{"type":"text","text":"74","font":"Liberation Sans","fontWeight":"bold","fontSize":56,"align":"right","baseline":"alphabetic","fill":"#231f20"},
 "encoding":{"x":{"datum":29.8,"type":"quantitative"},"y":{"datum":39.08,"type":"quantitative"}}},
{"data":{"values":[{}]},"mark":{"type":"text","text":"9 cases with precision < 0.05%","font":"Liberation Sans","fontSize":76,"align":"left","baseline":"alphabetic","fill":"#ff1a1a"},
 "encoding":{"x":{"datum":28.23,"type":"quantitative"},"y":{"datum":10.32,"type":"quantitative"}}},
{"data":{"values":[{}]},"mark":{"type":"text","text":"6 cases with precision 0.05-0.23%","font":"Liberation Sans","fontSize":76,"align":"left","baseline":"alphabetic","fill":"#00aeef"},
 "encoding":{"x":{"datum":28.23,"type":"quantitative"},"y":{"datum":7.58,"type":"quantitative"}}}
]
}
